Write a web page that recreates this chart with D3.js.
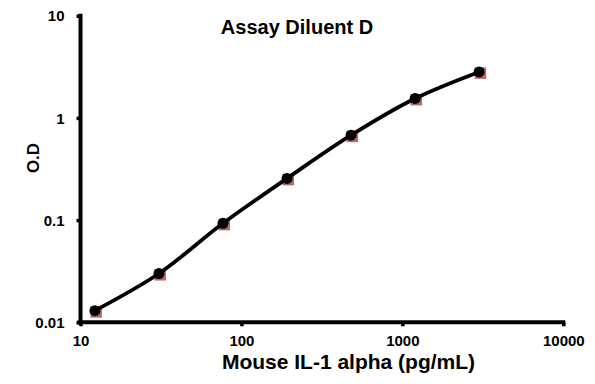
<!DOCTYPE html>
<html><head><meta charset="utf-8">
<script src="https://cdn.jsdelivr.net/npm/d3@7"></script>
<style>body{margin:0;background:#fff}svg{display:block}</style>
</head><body>
<script>
const concentrations = [12.29, 30.72, 76.8, 192, 480, 1200, 3000];
const odValues = [0.013, 0.030, 0.093, 0.256, 0.678, 1.55, 2.82];
const xTicks = [10, 100, 1000, 10000];
const yTicks = [0.01, 0.1, 1, 10];
const title = "Assay Diluent D";
const xTitle = "Mouse IL-1 alpha (pg/mL)";
const yTitle = "O.D";

const W = 595, H = 384;
const svg = d3.select("body").append("svg").attr("width", W).attr("height", H);
const x = d3.scaleLog().domain([10, 10000]).range([80.5, 563.3]);
const y = d3.scaleLog().domain([0.01, 10]).range([322.3, 15.7]);
const font = "'Liberation Sans', Arial, sans-serif";

const xAxis = svg.append("g").attr("transform", `translate(0,${y(0.01)})`)
  .call(d3.axisBottom(x).tickValues(xTicks).tickFormat(d3.format("d")).tickSize(4).tickSizeOuter(0).tickPadding(9));
const yAxis = svg.append("g").attr("transform", `translate(${x(10)},0)`)
  .call(d3.axisLeft(y).tickValues(yTicks).tickFormat(d => String(d)).tickSize(4).tickSizeOuter(0).tickPadding(12));
[xAxis, yAxis].forEach(g => {
  g.select(".domain").attr("stroke", "#000").attr("stroke-width", 4);
  g.selectAll(".tick line").attr("stroke", "#000").attr("stroke-width", 3.5);
  g.selectAll(".tick text").attr("fill", "#000").style("font-family", font).style("font-weight", "bold").style("font-size", "15px");
});
xAxis.select(".domain").attr("d", `M${x(10)-3},0H${x(10000)+2}`);
yAxis.select(".domain").attr("d", `M0,${y(10)-2}V${y(0.01)+2}`);
yAxis.selectAll(".tick text").attr("dy", "0.35em");

const data = concentrations.map((c, i) => ({c, v: odValues[i]}));
svg.append("g").selectAll("rect").data(data).join("rect")
  .attr("x", d => x(d.c) - 4.5).attr("y", d => y(d.v) - 4.5)
  .attr("width", 11.5).attr("height", 11.5).attr("fill", "#b04a4c").attr("opacity", 0.85);

const line = d3.line().x(d => x(d.c)).y(d => y(d.v)).curve(d3.curveCatmullRom.alpha(0.5));
svg.append("path").datum(data).attr("d", line).attr("fill", "none")
  .attr("stroke", "#000").attr("stroke-width", 3.75);

svg.append("g").selectAll("circle").data(data).join("circle")
  .attr("cx", d => x(d.c)).attr("cy", d => y(d.v)).attr("r", 5.5).attr("fill", "#000");

svg.append("text").attr("x", 297).attr("y", 34).attr("text-anchor", "middle")
  .style("font-family", font).style("font-weight", "bold").style("font-size", "20px")
  .text(title);
svg.append("text").attr("x", 348.5).attr("y", 369).attr("text-anchor", "middle")
  .style("font-family", font).style("font-weight", "bold").style("font-size", "21px").text(xTitle);
svg.append("text").attr("transform", "translate(39,158) rotate(-90)").attr("text-anchor", "middle")
  .style("font-family", font).style("font-weight", "bold").style("font-size", "17px").text(yTitle);
</script>
</body></html>
